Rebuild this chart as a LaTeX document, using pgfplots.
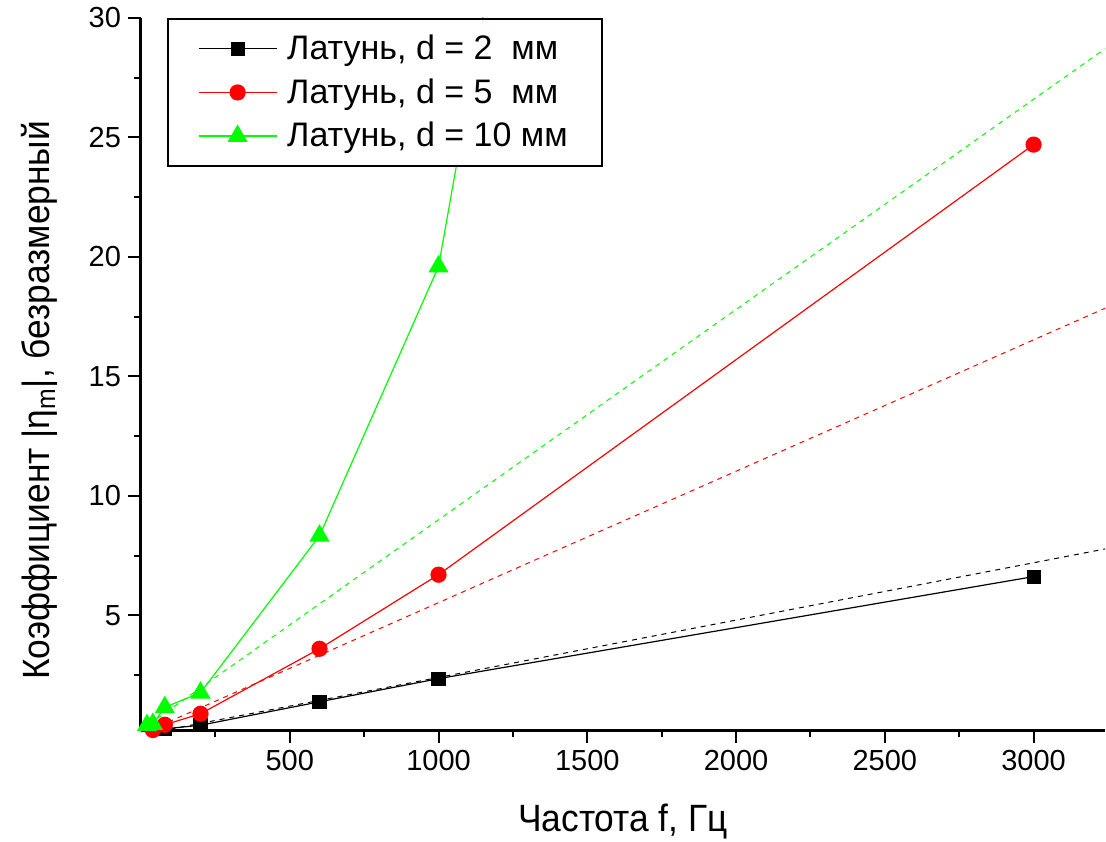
\documentclass[border=0pt]{standalone}
\usepackage{fontspec}
\setmainfont{Liberation Sans}
\usepackage{pgfplots}
\pgfplotsset{compat=1.18}
\definecolor{ogreen}{HTML}{00FF00}
\definecolor{ored}{HTML}{FF0000}

\begin{document}
\begin{tikzpicture}
\begin{axis}[
    width=482pt, height=356pt, scale only axis,
    xmin=0, xmax=3240, ymin=0.2, ymax=30,
    axis x line*=bottom, axis y line*=left,
    axis line style={line width=1.5pt,-},
    xtick={500,1000,...,3000}, minor xtick={250,750,...,3000},
    ytick={5,10,...,30}, minor ytick={2.5,7.5,...,27.5},
    tick align=outside,
    major tick length=6.5pt, minor tick length=3.5pt,
    tick style={line width=1pt,black},
    /pgf/number format/assume math mode=true,
    /pgf/number format/1000 sep={},
    ticklabel style={font=\fontsize{14.5}{14.5}\selectfont},
    xlabel={Частота f, Гц},
    ylabel={Коэффициент |η\textsubscript{m}|, безразмерный},
    label style={font=\fontsize{19}{19}\selectfont\addfontfeature{FakeStretch=0.93}},
    xlabel shift=10pt,
    ylabel shift=8.5pt,
    ylabel style={at={(ticklabel cs:0.463)}},
    legend cell align=left,
    legend style={at={(0.027,1)}, anchor=north west, draw=black, fill=white, line width=1pt,
        font=\fontsize{17}{17}\selectfont, inner xsep=15pt, inner ysep=6pt,
        row sep=4pt},
    legend image code/.code={\draw[mark repeat=2,mark phase=2,#1] plot coordinates {(0pt,0pt) (19.5pt,0pt) (39pt,0pt)};},
]
% linear fits
\addplot[black, line width=0.5pt, dash pattern=on 2.5pt off 2.5pt, forget plot] coordinates {(0,0) (3300,7.92)};
\addplot[ored, line width=0.5pt, dash pattern=on 2.5pt off 2.5pt, forget plot] coordinates {(0,0.03) (3300,18.18)};
\addplot[ogreen, line width=0.5pt, dash pattern=on 2.5pt off 2.5pt, forget plot] coordinates {(0,0.2) (3300,29.24)};
% data
\addplot[black, line width=0.6pt, mark=square*, mark size=3.25pt, mark options={solid}] coordinates {
(20,0.05) (40,0.1) (80,0.25) (200,0.4) (600,1.38) (1000,2.35) (3000,6.62)};
\addlegendentry{\hspace{3pt}Латунь, d = 2\ \ мм}
\addplot[ored, line width=0.6pt, mark=*, mark size=3.75pt] coordinates {
(20,0.12) (40,0.2) (80,0.42) (200,0.88) (600,3.6) (1000,6.7) (3000,24.7)};
\addlegendentry{\hspace{3pt}Латунь, d = 5\ \ мм}
\addplot[ogreen, line width=0.6pt, mark=triangle*, mark size=5.2pt] coordinates {
(20,0.4) (40,0.45) (80,1.15) (200,1.76) (600,8.33) (1000,19.6) (3000,160)};
\addlegendentry{\hspace{3pt}Латунь, d = 10 мм\hspace{3.5pt}}
\end{axis}
\pgfresetboundingbox
\path[use as bounding box] ([shift={(-70.5pt,-55.5pt)}]current axis.south west) rectangle ([shift={(482.5pt,365pt)}]current axis.south west);
\end{tikzpicture}
\end{document}
